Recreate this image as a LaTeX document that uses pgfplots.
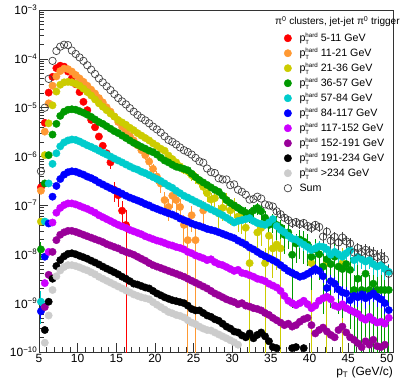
\documentclass[border=0pt]{standalone}
\usepackage{fontspec}
\setmainfont{Liberation Sans}
\usepackage{pgfplots}
\pgfplotsset{compat=1.18}
\usepackage{pgfplotstable}

\definecolor{cRed}{RGB}{255,0,0}
\definecolor{cOrange}{RGB}{255,153,51}
\definecolor{cYellow}{RGB}{204,204,0}
\definecolor{cGreen}{RGB}{0,153,0}
\definecolor{cCyan}{RGB}{0,204,204}
\definecolor{cBlue}{RGB}{0,0,255}
\definecolor{cMagenta}{RGB}{204,0,255}
\definecolor{cPurple}{RGB}{153,0,153}
\definecolor{cGray}{RGB}{204,204,204}

\pgfplotsset{myerr/.style={error bars/.cd, y dir=both, y explicit, error mark=none, error bar style={line width=0.9pt}}}

\pgfplotstableread{
x y e
5.25 2.34e-7 0.5e-7
5.75 4.9e-6 0
6.25 2.04e-5 0
6.75 4.27e-5 0
7.25 6.46e-5 0
7.75 7.24e-5 0
8.25 6.92e-5 0
8.75 5.5e-5 0
9.25 3.98e-5 0
9.75 3.02e-5 0
10.25 2.09e-5 0
10.75 1.32e-5 0
11.25 8.91e-6 0
11.75 5.62e-6 0
12.25 3.98e-6 0
12.75 2.57e-6 0
13.25 1.66e-6 0
13.75 1.17e-6 0.2e-6
14.25 7.6e-7 2.0e-7
14.75 2.09e-7 0.9e-7
15.25 1.62e-7 0.7e-7
15.75 7.8e-8 4.5e-8
16.25 3.98e-8 3.978e-8
}\tRed

\pgfplotstableread{
x y e
5.25 2.0e-7 0
5.75 3.24e-6 0
6.25 1.23e-5 0
6.75 2.82e-5 0
7.25 4.37e-5 0
7.75 5.62e-5 0
8.25 6.31e-5 0
8.75 6.17e-5 0
9.25 5.5e-5 0
9.75 4.68e-5 0
10.25 3.98e-5 0
10.75 3.39e-5 0
11.25 2.82e-5 0
11.75 2.34e-5 0
12.25 1.95e-5 0
12.75 1.58e-5 0
13.25 1.29e-5 0
13.75 1.02e-5 0
14.25 8.3e-6 0
14.75 6.6e-6 0
15.25 5.1e-6 0
15.75 4.07e-6 0
16.25 3.31e-6 0
16.75 2.63e-6 0
17.25 2.14e-6 0
17.75 1.7e-6 0.2e-6
18.25 1.35e-6 0.2e-6
18.75 1.07e-6 0.2e-6
19.25 7.9e-7 1.8e-7
19.75 5.6e-7 1.5e-7
20.25 3.9e-7 1.2e-7
20.75 2.8e-7 1.0e-7
21.25 1.29e-7 0.6e-7
21.75 9.3e-8 4.5e-8
22.25 1.58e-7 0.7e-7
22.75 1.29e-7 0.6e-7
23.25 9.3e-8 4.5e-8
23.75 4.0e-8 2.5e-8
24.25 1.95e-8 1.948e-8
24.75 6.3e-8 3.5e-8
25.25 1.95e-8 1.948e-8
26.25 7.9e-8 4.5e-8
}\tOrange

\pgfplotstableread{
x y e
5.25 4.68e-8 0
5.75 1.07e-6 0
6.25 4.79e-6 0
6.75 1.12e-5 0
7.25 2.14e-5 0
7.75 2.95e-5 0
8.25 3.31e-5 0
8.75 3.39e-5 0
9.25 3.31e-5 0
9.75 3.09e-5 0
10.25 2.82e-5 0
10.75 2.45e-5 0
11.25 2.09e-5 0
11.75 1.78e-5 0
12.25 1.48e-5 0
12.75 1.23e-5 0
13.25 1.05e-5 0
13.75 8.9e-6 0
14.25 7.6e-6 0
14.75 6.6e-6 0
15.25 5.6e-6 0
15.75 5.0e-6 0
16.25 4.47e-6 0
16.75 3.89e-6 0
17.25 3.47e-6 0
17.75 3.02e-6 0
18.25 2.69e-6 0
18.75 2.4e-6 0
19.25 2.14e-6 0
19.75 1.86e-6 0
20.25 1.66e-6 0
20.75 1.45e-6 0
21.25 1.32e-6 0.1e-6
21.75 1.05e-6 0.1e-6
22.25 8.9e-7 1e-7
22.75 7.6e-7 1e-7
23.25 6.3e-7 1e-7
23.75 5.4e-7 1e-7
24.25 5.0e-7 1e-7
24.75 4.17e-7 1e-7
25.25 3.8e-7 1e-7
25.75 3.16e-7 0.8e-7
26.25 2.4e-7 0.7e-7
26.75 1.78e-7 0.6e-7
27.25 1.32e-7 0.5e-7
27.75 1.41e-7 0.5e-7
28.25 6.9e-8 3.5e-8
28.75 8.9e-8 4e-8
29.25 1.29e-7 0.5e-7
29.75 7.9e-8 4e-8
30.25 1.0e-7 0.45e-7
30.75 5.9e-8 3e-8
31.25 5.6e-8 3e-8
31.75 3.5e-8 2.2e-8
32.25 6.6e-9 6.59e-9
33.25 2.8e-8 1.8e-8
33.75 3.47e-8 2e-8
34.25 6.6e-9 6.59e-9
34.75 2.4e-8 1.6e-8
35.25 1.32e-8 1.0e-8
35.75 1.58e-8 1.1e-8
36.25 1.32e-8 1.319e-8
40.25 6.6e-9 6.59e-9
42.25 6.6e-9 6.59e-9
44.25 6.6e-9 6.59e-9
}\tYellow

\pgfplotstableread{
x y e
5.25 1.26e-8 0.5e-8
5.75 2.82e-7 0
6.25 1.07e-6 0
6.75 2.82e-6 0
7.25 4.68e-6 0
7.75 6.8e-6 0
8.25 8.3e-6 0
8.75 9.1e-6 0
9.25 9.3e-6 0
9.75 9.1e-6 0
10.25 8.5e-6 0
10.75 7.9e-6 0
11.25 7.2e-6 0
11.75 6.5e-6 0
12.25 5.75e-6 0
12.75 5.1e-6 0
13.25 4.68e-6 0
13.75 4.17e-6 0
14.25 3.72e-6 0
14.75 3.31e-6 0
15.25 3.02e-6 0
15.75 2.69e-6 0
16.25 2.4e-6 0
16.75 2.14e-6 0
17.25 1.91e-6 0
17.75 1.74e-6 0
18.25 1.58e-6 0
18.75 1.45e-6 0
19.25 1.32e-6 0
19.75 1.23e-6 0
20.25 1.1e-6 0
20.75 9.5e-7 0
21.25 8.3e-7 0
21.75 7.6e-7 0
22.25 6.8e-7 0
22.75 6.2e-7 0
23.25 5.9e-7 0
23.75 5.6e-7 0
24.25 5.25e-7 0
24.75 4.47e-7 0
25.25 3.8e-7 0
25.75 3.31e-7 0
26.25 2.95e-7 0
26.75 2.63e-7 0
27.25 2.34e-7 0
27.75 2.09e-7 0
28.25 1.91e-7 0.2e-7
28.75 1.58e-7 0.2e-7
29.25 1.29e-7 0.2e-7
29.75 1.12e-7 0.2e-7
30.25 1.0e-7 0.2e-7
30.75 8.9e-8 2e-8
31.25 7.9e-8 2e-8
31.75 7.1e-8 2e-8
32.25 6.3e-8 2e-8
32.75 7.9e-8 2.5e-8
33.25 8.9e-8 2.5e-8
33.75 7.6e-8 2.5e-8
34.25 5.6e-8 2e-8
34.75 4.0e-8 1.5e-8
35.25 4.68e-8 2e-8
35.75 4.0e-8 2e-8
36.25 3.55e-8 1.5e-8
36.75 2.5e-8 1.5e-8
37.25 2.8e-8 1.5e-8
37.75 9.8e-9 9e-9
38.25 1.66e-8 1e-8
38.75 2.0e-8 1.2e-8
39.25 1.82e-8 1.2e-8
39.75 1.58e-8 1e-8
40.25 8.9e-9 7e-9
40.75 1.26e-8 8e-9
41.25 1.0e-8 7e-9
41.75 5.6e-9 5e-9
42.25 7.9e-9 6e-9
42.75 6.3e-9 5.5e-9
43.25 8.9e-9 7e-9
43.75 5.6e-9 5e-9
44.25 5.0e-9 4.5e-9
44.75 6.3e-9 5.5e-9
45.25 4.8e-9 4.5e-9
45.75 1.86e-9 1.859e-9
46.25 3.16e-9 3.0e-9
46.75 1.86e-9 1.859e-9
47.25 4.0e-9 3.8e-9
47.75 1.86e-9 1.859e-9
48.25 2.5e-9 2.4e-9
48.75 1.86e-9 1.859e-9
49.25 1.86e-9 1.859e-9
49.75 1.86e-9 1.859e-9
50.25 1.86e-9 1.859e-9
}\tGreen

\pgfplotstableread{
x y e
5.25 1.07e-9 0.7e-9
5.75 4.68e-8 0
6.25 2.82e-7 0
6.75 7.1e-7 0
7.25 1.17e-6 0
7.75 1.62e-6 0
8.25 1.95e-6 0
8.75 2.14e-6 0
9.25 2.24e-6 0
9.75 2.19e-6 0
10.25 2.04e-6 0
10.75 1.86e-6 0
11.25 1.7e-6 0
11.75 1.58e-6 0
12.25 1.45e-6 0
12.75 1.32e-6 0
13.25 1.2e-6 0
13.75 1.1e-6 0
14.25 1.0e-6 0
14.75 9.1e-7 0
15.25 8.3e-7 0
15.75 7.6e-7 0
16.25 6.9e-7 0
16.75 6.3e-7 0
17.25 5.75e-7 0
17.75 5.4e-7 0
18.25 4.9e-7 0
18.75 4.57e-7 0
19.25 4.17e-7 0
19.75 3.8e-7 0
20.25 3.47e-7 0
20.75 3.16e-7 0
21.25 2.82e-7 0
21.75 2.51e-7 0
22.25 2.29e-7 0
22.75 2.0e-7 0
23.25 1.78e-7 0
23.75 1.58e-7 0
24.25 1.45e-7 0
24.75 1.32e-7 0
25.25 1.2e-7 0
25.75 1.1e-7 0
26.25 1.0e-7 0
26.75 9.1e-8 0
27.25 8.3e-8 0
27.75 7.6e-8 0
28.25 6.9e-8 0
28.75 6.3e-8 0
29.25 5.6e-8 0
29.75 5.0e-8 0
30.25 4.47e-8 0
30.75 4.8e-8 0
31.25 5.0e-8 0
31.75 5.25e-8 0
32.25 5.5e-8 0
32.75 4.8e-8 0
33.25 4.37e-8 0
33.75 4.17e-8 0
34.25 4.0e-8 0
34.75 4.47e-8 0
35.25 5.25e-8 0.8e-8
35.75 3.8e-8 0.7e-8
36.25 3.16e-8 0.6e-8
36.75 2.82e-8 0.6e-8
37.25 2.4e-8 0.5e-8
37.75 2.09e-8 0.5e-8
38.25 2.0e-8 0.5e-8
38.75 1.78e-8 0.45e-8
39.25 1.58e-8 0.4e-8
39.75 1.41e-8 0.4e-8
40.25 1.23e-8 0.4e-8
40.75 1.32e-8 0.4e-8
41.25 1.45e-8 0.4e-8
41.75 1.41e-8 0.4e-8
42.25 1.26e-8 0.4e-8
42.75 9.8e-9 3.5e-9
43.25 1.12e-8 3.5e-9
43.75 1.0e-8 3.5e-9
44.25 8.9e-9 3e-9
44.75 1.05e-8 3.5e-9
45.25 1.2e-8 3.5e-9
45.75 7.6e-9 3e-9
46.25 8.9e-9 3e-9
46.75 7.9e-9 3e-9
47.25 7.1e-9 2.5e-9
47.75 7.6e-9 2.5e-9
48.25 6.3e-9 2.5e-9
48.75 5.6e-9 2.2e-9
49.25 6.0e-9 2.2e-9
49.75 5.0e-9 2e-9
50.25 4.37e-9 2e-9
}\tCyan

\pgfplotstableread{
x y e
5.25 6.8e-10 2e-10
5.75 8.9e-9 0
6.25 4.27e-8 0
6.75 1.51e-7 0
7.25 2.51e-7 0
7.75 3.47e-7 0
8.25 4.27e-7 0
8.75 4.79e-7 0
9.25 5.0e-7 0
9.75 4.9e-7 0
10.25 4.57e-7 0
10.75 4.27e-7 0
11.25 3.89e-7 0
11.75 3.63e-7 0
12.25 3.31e-7 0
12.75 2.95e-7 0
13.25 2.69e-7 0
13.75 2.45e-7 0
14.25 2.24e-7 0
14.75 2.04e-7 0
15.25 1.91e-7 0
15.75 1.74e-7 0
16.25 1.58e-7 0
16.75 1.45e-7 0
17.25 1.35e-7 0
17.75 1.26e-7 0
18.25 1.17e-7 0
18.75 1.07e-7 0
19.25 1.0e-7 0
19.75 9.1e-8 0
20.25 8.5e-8 0
20.75 7.9e-8 0
21.25 7.4e-8 0
21.75 6.9e-8 0
22.25 6.5e-8 0
22.75 6.0e-8 0
23.25 5.4e-8 0
23.75 5.0e-8 0
24.25 4.68e-8 0
24.75 4.27e-8 0
25.25 4.0e-8 0
25.75 3.8e-8 0
26.25 3.55e-8 0
26.75 3.31e-8 0
27.25 3.16e-8 0
27.75 3.02e-8 0
28.25 2.82e-8 0
28.75 2.63e-8 0
29.25 2.45e-8 0
29.75 2.29e-8 0
30.25 2.14e-8 0
30.75 1.91e-8 0
31.25 1.74e-8 0
31.75 1.58e-8 0
32.25 1.38e-8 0
32.75 1.26e-8 0
33.25 1.12e-8 0
33.75 1.0e-8 0
34.25 9.1e-9 0
34.75 8.3e-9 0
35.25 7.6e-9 0
35.75 6.9e-9 0
36.25 6.0e-9 0
36.75 5.25e-9 0
37.25 4.57e-9 0
37.75 4.17e-9 0
38.25 3.8e-9 0
38.75 3.47e-9 0
39.25 3.63e-9 0
39.75 4.0e-9 0
40.25 4.47e-9 1.2e-9
40.75 5.0e-9 1.2e-9
41.25 4.57e-9 1.2e-9
41.75 3.55e-9 1.0e-9
42.25 2.04e-9 0.8e-9
42.75 2.82e-9 1.0e-9
43.25 2.5e-9 0.9e-9
43.75 1.91e-9 0.7e-9
44.25 1.66e-9 0.6e-9
44.75 1.58e-9 0.6e-9
45.25 1.15e-9 0.5e-9
45.75 1.41e-9 0.5e-9
46.25 1.32e-9 0.5e-9
46.75 1.51e-9 0.5e-9
47.25 1.26e-9 0.5e-9
47.75 1.41e-9 0.5e-9
48.25 1.58e-9 0.5e-9
48.75 1.35e-9 0.5e-9
49.25 1.2e-9 0.4e-9
49.75 1.0e-9 0.4e-9
50.25 7.2e-10 0.3e-9
}\tBlue

\pgfplotstableread{
x y
5.75 2.57e-9
6.25 1.12e-8
6.75 4.47e-8
7.25 7.1e-8
7.75 8.9e-8
8.25 1.02e-7
8.75 1.1e-7
9.25 1.1e-7
9.75 1.05e-7
10.25 9.8e-8
10.75 9.1e-8
11.25 8.5e-8
11.75 7.8e-8
12.25 7.1e-8
12.75 6.3e-8
13.25 5.75e-8
13.75 5.25e-8
14.25 4.8e-8
14.75 4.37e-8
15.25 4.0e-8
15.75 3.72e-8
16.25 3.47e-8
16.75 3.16e-8
17.25 2.95e-8
17.75 2.75e-8
18.25 2.57e-8
18.75 2.34e-8
19.25 2.19e-8
19.75 2.04e-8
20.25 1.91e-8
20.75 1.82e-8
21.25 1.7e-8
21.75 1.58e-8
22.25 1.51e-8
22.75 1.41e-8
23.25 1.35e-8
23.75 1.26e-8
24.25 1.12e-8
24.75 1.05e-8
25.25 9.5e-9
25.75 8.9e-9
26.25 8.3e-9
26.75 7.6e-9
27.25 7.9e-9
27.75 6.9e-9
28.25 6.3e-9
28.75 6.0e-9
29.25 5.5e-9
29.75 5.0e-9
30.25 4.57e-9
30.75 4.8e-9
31.25 4.17e-9
31.75 4.0e-9
32.25 3.72e-9
32.75 3.47e-9
33.25 3.16e-9
33.75 3.02e-9
34.25 2.82e-9
34.75 2.5e-9
35.25 2.29e-9
35.75 2.09e-9
36.25 1.78e-9
36.75 1.41e-9
37.25 1.12e-9
37.75 1.0e-9
38.25 9.1e-10
38.75 1.0e-9
39.25 1.12e-9
39.75 9.5e-10
40.25 7.9e-10
40.75 8.9e-10
41.25 1.12e-9
41.75 1.26e-9
42.25 1.35e-9
42.75 1.2e-9
43.25 8.9e-10
43.75 8.3e-10
44.25 9.5e-10
44.75 7.9e-10
45.25 7.2e-10
45.75 6.6e-10
46.25 6.0e-10
46.75 5.0e-10
47.25 4.57e-10
47.75 5.25e-10
48.25 4.47e-10
48.75 4.0e-10
49.25 4.17e-10
49.75 3.8e-10
50.25 5.0e-10
}\tMagenta

\pgfplotstableread{
x y
5.75 8.3e-10
6.25 3.8e-9
6.75 1.12e-8
7.25 1.95e-8
7.75 2.51e-8
8.25 2.82e-8
8.75 3.02e-8
9.25 3.02e-8
9.75 2.88e-8
10.25 2.69e-8
10.75 2.51e-8
11.25 2.34e-8
11.75 2.19e-8
12.25 2.04e-8
12.75 1.91e-8
13.25 1.78e-8
13.75 1.62e-8
14.25 1.51e-8
14.75 1.41e-8
15.25 1.32e-8
15.75 1.2e-8
16.25 1.12e-8
16.75 1.05e-8
17.25 9.8e-9
17.75 8.9e-9
18.25 8.1e-9
18.75 7.4e-9
19.25 6.6e-9
19.75 6.0e-9
20.25 5.6e-9
20.75 5.25e-9
21.25 4.9e-9
21.75 4.57e-9
22.25 4.27e-9
22.75 4.0e-9
23.25 3.72e-9
23.75 3.47e-9
24.25 3.16e-9
24.75 2.88e-9
25.25 2.63e-9
25.75 2.4e-9
26.25 2.19e-9
26.75 2.0e-9
27.25 1.78e-9
27.75 1.58e-9
28.25 1.45e-9
28.75 1.32e-9
29.25 1.2e-9
29.75 1.12e-9
30.25 1.05e-9
30.75 9.5e-10
31.25 1.0e-9
31.75 8.9e-10
32.25 8.5e-10
32.75 7.9e-10
33.25 7.6e-10
33.75 7.1e-10
34.25 6.3e-10
34.75 5.75e-10
35.25 5.0e-10
35.75 4.47e-10
36.25 4.0e-10
36.75 3.55e-10
37.25 3.8e-10
37.75 3.31e-10
38.25 3.55e-10
38.75 4.17e-10
39.25 4.68e-10
39.75 5.0e-10
40.25 3.55e-10
40.75 2.4e-10
41.25 2.82e-10
41.75 3.16e-10
42.25 2.63e-10
42.75 2.24e-10
43.25 2.0e-10
43.75 2.82e-10
44.25 3.31e-10
44.75 2.51e-10
45.25 2.0e-10
45.75 1.78e-10
46.25 1.51e-10
46.75 1.26e-10
47.25 1.66e-10
47.75 1.41e-10
48.25 1.78e-10
48.75 1.32e-10
49.25 1.26e-10
49.75 1.41e-10
}\tPurple

\pgfplotstableread{
x y
5.75 2.82e-10
6.25 1.07e-9
6.75 3.16e-9
7.25 5.75e-9
7.75 7.6e-9
8.25 9.1e-9
8.75 1.02e-8
9.25 1.05e-8
9.75 1.0e-8
10.25 9.3e-9
10.75 8.7e-9
11.25 8.1e-9
11.75 7.4e-9
12.25 6.8e-9
12.75 6.2e-9
13.25 5.6e-9
13.75 5.1e-9
14.25 4.68e-9
14.75 4.27e-9
15.25 3.89e-9
15.75 3.47e-9
16.25 3.16e-9
16.75 2.82e-9
17.25 2.51e-9
17.75 2.4e-9
18.25 2.24e-9
18.75 2.09e-9
19.25 2.0e-9
19.75 1.78e-9
20.25 1.58e-9
20.75 1.45e-9
21.25 1.32e-9
21.75 1.23e-9
22.25 1.15e-9
22.75 1.1e-9
23.25 1.05e-9
23.75 1.0e-9
24.25 8.9e-10
24.75 7.6e-10
25.25 7.1e-10
25.75 7.1e-10
26.25 6.3e-10
26.75 5.6e-10
27.25 5.25e-10
27.75 4.68e-10
28.25 4.37e-10
28.75 3.8e-10
29.25 3.31e-10
29.75 3.02e-10
30.25 2.63e-10
30.75 2.51e-10
31.25 2.19e-10
31.75 2.0e-10
32.25 2.4e-10
32.75 1.91e-10
33.25 2.24e-10
33.75 2.51e-10
34.25 2.09e-10
34.75 1.66e-10
35.25 1.26e-10
35.75 1.2e-10
37.75 1.2e-10
38.25 1.26e-10
39.25 1.2e-10
}\tBlack

\pgfplotstableread{
x y
5.75 1.55e-10
6.25 5.6e-10
6.75 1.86e-9
7.25 3.55e-9
7.75 4.68e-9
8.25 5.5e-9
8.75 6.0e-9
9.25 6.0e-9
9.75 5.75e-9
10.25 5.4e-9
10.75 5.0e-9
11.25 4.68e-9
11.75 4.27e-9
12.25 3.89e-9
12.75 3.47e-9
13.25 3.16e-9
13.75 2.88e-9
14.25 2.63e-9
14.75 2.4e-9
15.25 2.19e-9
15.75 2.0e-9
16.25 1.82e-9
16.75 1.66e-9
17.25 1.51e-9
17.75 1.41e-9
18.25 1.32e-9
18.75 1.26e-9
19.25 1.2e-9
19.75 1.05e-9
20.25 9.3e-10
20.75 8.3e-10
21.25 7.4e-10
21.75 6.6e-10
22.25 6.2e-10
22.75 5.75e-10
23.25 5.5e-10
23.75 5.1e-10
24.25 4.47e-10
24.75 4.0e-10
25.25 3.72e-10
25.75 3.31e-10
26.25 3.02e-10
26.75 2.82e-10
27.25 2.75e-10
27.75 2.51e-10
28.25 2.29e-10
28.75 2.09e-10
29.25 1.91e-10
29.75 1.74e-10
30.25 1.58e-10
30.75 1.41e-10
}\tGray

\pgfplotstableread{
x y e
5.25 5.0e-7 0
5.75 1.0e-5 0
6.25 3.89e-5 0
6.75 9.1e-5 0
7.25 1.45e-4 0
7.75 1.78e-4 0
8.25 1.95e-4 0
8.75 1.91e-4 0
9.25 1.48e-4 0
9.75 1.26e-4 0
10.25 1.07e-4 0
10.75 9.1e-5 0
11.25 7.4e-5 0
11.75 6.0e-5 0
12.25 4.9e-5 0
12.75 3.98e-5 0
13.25 3.31e-5 0
13.75 2.75e-5 0
14.25 2.29e-5 0
14.75 1.91e-5 0
15.25 1.58e-5 0
15.75 1.35e-5 0
16.25 1.17e-5 0
16.75 9.8e-6 0
17.25 8.3e-6 0
17.75 7.1e-6 0
18.25 6.2e-6 0
18.75 5.5e-6 0
19.25 4.8e-6 0
19.75 4.1e-6 0
20.25 3.6e-6 0
20.75 3.1e-6 0
21.25 2.6e-6 0
21.75 2.2e-6 0
22.25 2.0e-6 0
22.75 1.77e-6 0
23.25 1.54e-6 0
23.75 1.35e-6 0
24.25 1.24e-6 0
24.75 1.1e-6 0
25.25 9.4e-7 0
25.75 8.0e-7 0
26.25 7.5e-7 0
26.75 5.7e-7 0
27.25 4.8e-7 0
27.75 4.6e-7 0
28.25 3.6e-7 0
28.75 3.4e-7 0
29.25 3.4e-7 0
29.75 2.6e-7 0
30.25 2.7e-7 0
30.75 2.1e-7 0
31.25 1.9e-7 0
31.75 1.66e-7 0
32.25 1.32e-7 0
32.75 1.35e-7 0
33.25 1.51e-7 0
33.75 1.38e-7 0
34.25 1.05e-7 0
34.75 1.0e-7 0
35.25 9.5e-8 1.2e-8
35.75 7.6e-8 1.0e-8
36.25 6.6e-8 1.0e-8
36.75 5.6e-8 1.0e-8
37.25 5.0e-8 1.0e-8
37.75 4.37e-8 0.9e-8
38.25 4.57e-8 0.9e-8
38.75 4.17e-8 0.9e-8
39.25 4.37e-8 0.9e-8
39.75 3.8e-8 0.8e-8
40.25 3.47e-8 0.8e-8
40.75 4.0e-8 0.8e-8
41.25 3.63e-8 0.8e-8
41.75 2.3e-8 0.6e-8
42.25 2.9e-8 0.7e-8
42.75 1.9e-8 0.6e-8
43.25 2.26e-8 0.6e-8
43.75 1.75e-8 0.5e-8
44.25 2.2e-8 0.6e-8
44.75 1.84e-8 0.5e-8
45.25 1.66e-8 0.5e-8
45.75 1.09e-8 0.4e-8
46.25 1.34e-8 0.4e-8
46.75 1.12e-8 0.4e-8
47.25 1.23e-8 0.4e-8
47.75 1.09e-8 0.4e-8
48.25 1.04e-8 0.4e-8
48.75 8.8e-9 0.35e-8
49.25 9.1e-9 0.35e-8
49.75 7.9e-9 0.3e-8
50.25 4.0e-9 0.2e-8
}\tSum

\newcommand{\ph}{p\rlap{\raisebox{-2.4bp}{\fontsize{6}{6}\selectfont T}}\raisebox{4.6bp}{\fontsize{6.2}{6}\selectfont hard}}

\begin{document}
\begin{tikzpicture}
\path[use as bounding box] (-39bp,-29bp) rectangle (365bp,352bp);
\begin{axis}[
  at={(0,0)}, anchor=south west,
  width=354bp, height=342bp, scale only axis,
  xmin=5, xmax=50.8, ymin=1e-10, ymax=1e-3, ymode=log,
  axis line style={black!80, line width=0.6pt},
  tick style={black!80, line width=0.6pt},
  tick pos=left, tick align=inside,
  major tick length=9bp, minor tick length=5bp,
  xtick={5,10,15,20,25,30,35,40,45,50},
  xticklabels={5,10,15,20,25,30,35,40,45,50},
  minor x tick num=4,
  ytick={1e-10,1e-9,1e-8,1e-7,1e-6,1e-5,1e-4,1e-3},
  yticklabels={10\textsuperscript{−10},10\textsuperscript{−9},10\textsuperscript{−8},10\textsuperscript{−7},10\textsuperscript{−6},10\textsuperscript{−5},10\textsuperscript{−4},10\textsuperscript{−3}},
  minor ytick={2e-10,3e-10,4e-10,5e-10,6e-10,7e-10,8e-10,9e-10,
    2e-9,3e-9,4e-9,5e-9,6e-9,7e-9,8e-9,9e-9,
    2e-8,3e-8,4e-8,5e-8,6e-8,7e-8,8e-8,9e-8,
    2e-7,3e-7,4e-7,5e-7,6e-7,7e-7,8e-7,9e-7,
    2e-6,3e-6,4e-6,5e-6,6e-6,7e-6,8e-6,9e-6,
    2e-5,3e-5,4e-5,5e-5,6e-5,7e-5,8e-5,9e-5,
    2e-4,3e-4,4e-4,5e-4,6e-4,7e-4,8e-4,9e-4},
  ticklabel style={font=\fontsize{12}{14}\selectfont},
  yticklabel style={inner sep=1.5bp},
  xticklabel style={inner sep=2bp},
  xlabel={p\textsubscript{T} (GeV/c)},
  xlabel style={at={(rel axis cs:1,0)}, anchor=north east, inner sep=0pt, yshift=-15bp, font=\fontsize{12}{14}\selectfont},
  legend style={at={(rel axis cs:0.692,0.940)}, anchor=north west, draw=none, fill=none,
    inner sep=0pt, row sep=0bp,
    font=\fontsize{10.7}{13}\selectfont,
    nodes={inner sep=0pt, text height=11bp, text depth=4bp},
    /tikz/every odd column/.append style={column sep=8bp}},
  legend cell align=left,
  legend image code/.code={\draw[#1] plot coordinates {(4bp,0bp)};},
  every axis plot/.append style={only marks, mark=*, mark size=3.7bp},
]
\addplot[cRed, mark options={fill=cRed}, myerr] table[x=x,y=y,y error=e] {\tRed};
\addlegendentry{\ph{} 5-11 GeV}
\addplot[cOrange, mark options={fill=cOrange}, myerr] table[x=x,y=y,y error=e] {\tOrange};
\addlegendentry{\ph{} 11-21 GeV}
\addplot[cYellow, mark options={fill=cYellow}, myerr] table[x=x,y=y,y error=e] {\tYellow};
\addlegendentry{\ph{} 21-36 GeV}
\addplot[cGreen, mark options={fill=cGreen}, myerr] table[x=x,y=y,y error=e] {\tGreen};
\addlegendentry{\ph{} 36-57 GeV}
\addplot[cCyan, mark options={fill=cCyan}, myerr] table[x=x,y=y,y error=e] {\tCyan};
\addlegendentry{\ph{} 57-84 GeV}
\addplot[cBlue, mark options={fill=cBlue}, myerr] table[x=x,y=y,y error=e] {\tBlue};
\addlegendentry{\ph{} 84-117 GeV}
\addplot[cMagenta, mark options={fill=cMagenta}] table[x=x,y=y] {\tMagenta};
\addlegendentry{\ph{} 117-152 GeV}
\addplot[cPurple, mark options={fill=cPurple}] table[x=x,y=y] {\tPurple};
\addlegendentry{\ph{} 152-191 GeV}
\addplot[black, mark options={fill=black}] table[x=x,y=y] {\tBlack};
\addlegendentry{\ph{} 191-234 GeV}
\addplot[cGray, mark options={fill=cGray}] table[x=x,y=y] {\tGray};
\addlegendentry{\ph{} >234 GeV}
\addplot[black!75, mark=o, mark options={line width=0.7pt}, myerr] table[x=x,y=y,y error=e] {\tSum};
\addlegendentry{Sum}
\end{axis}
\node[anchor=base west, inner sep=0pt, font=\fontsize{10.1}{12}\selectfont] at (236bp,327bp) {π\textsuperscript{0} clusters, jet-jet π\textsuperscript{0} trigger};
\end{tikzpicture}
\end{document}
